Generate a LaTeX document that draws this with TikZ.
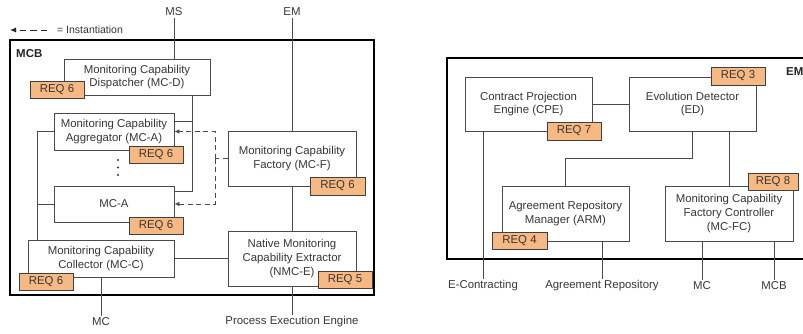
\documentclass[tikz,border=0pt]{standalone}
\usepackage{fontspec}
\setmainfont{Liberation Sans}
\usetikzlibrary{arrows.meta,shadows}
\definecolor{reqfill}{RGB}{247,185,132}
\definecolor{txt}{RGB}{55,55,55}
\definecolor{ln}{RGB}{75,75,75}
\begin{document}
\begin{tikzpicture}[x=1pt,y=-1pt,
  font=\fontsize{11.4}{13.6}\selectfont, text=txt,
  box/.style={draw=ln, line width=0.8pt, fill=white, align=center, inner sep=2pt},
  req/.style={draw=black!75, line width=0.9pt, fill=reqfill, inner sep=1pt, minimum width=54pt, minimum height=17pt,
    drop shadow={shadow xshift=0.9pt, shadow yshift=-0.9pt, fill=black!60, opacity=1}},
  outer/.style={draw=black, line width=1.6pt},
  lab/.style={inner sep=1.5pt},
  conn/.style={draw=ln, line width=0.8pt},
  inst/.style={draw=ln, line width=0.8pt, dash pattern=on 5pt off 3.5pt, -{Latex[length=5pt,width=4.5pt]}},
  legarrow/.style={draw=black!85, line width=1pt, dash pattern=on 6.5pt off 4pt, -{Latex[length=6pt,width=5pt]}}]
\useasboundingbox (0,0) rectangle (803,333);
\clip (0,0) rectangle (803,333);

% ---------- legend ----------
\coordinate (lgA) at (47,30);
\coordinate (lgB) at (10,30);
\draw[legarrow] (lgA) -- (lgB);
\node[anchor=west, inner sep=0, font=\fontsize{10.5}{12}\selectfont] (lgtxt) at (57,30) {= Instantiation};

% ---------- MCB ----------
\node[outer, minimum width=364pt, minimum height=255pt] (mcbbox) at (192,167.5) {};
\node[anchor=north west, inner sep=0, font=\fontsize{11.5}{13}\selectfont\bfseries, text=black!85] (mcbtitle) at (16,49) {MCB};

\node[box, minimum width=146pt, minimum height=36pt] (mcd) at (137,77) {Monitoring Capability\\Dispatcher (MC-D)};
\node[box, minimum width=120pt, minimum height=37pt] (mcaA) at (114,131.5) {Monitoring Capability\\Aggregator (MC-A)};
\node[box, minimum width=120pt, minimum height=36pt] (mcaB) at (114,204) {MC-A};
\node[box, minimum width=146pt, minimum height=37pt] (mcc) at (101,258.5) {Monitoring Capability\\Collector (MC-C)};
\node[box, minimum width=128pt, minimum height=55pt] (mcf) at (292,158.5) {Monitoring Capability\\Factory (MC-F)};
\node[box, minimum width=128pt, minimum height=55pt] (nmce) at (292,258.5) {Native Monitoring\\Capability Extractor\\(NMC-E)};

\node[req] (rqd) at (57,89.5) {REQ 6};
\node[req] (rqaA) at (156,154.5) {REQ 6};
\node[req] (rqaB) at (156,225.5) {REQ 6};
\node[req] (rqc) at (46,281.5) {REQ 6};
\node[req, minimum width=55pt, minimum height=18pt] (rqf) at (337.5,186) {REQ 6};
\node[req] (rqn) at (345,280) {REQ 5};

\fill[txt] (118,160) circle (1.2pt) (118,167.5) circle (1.2pt) (118,175) circle (1.2pt);

\node[lab] (ms) at (174,12) {MS};
\node[lab] (emtop) at (292,12) {EM};
\node[lab] (mcbot) at (101,322) {MC};
\node[lab] (pee) at (292,322) {Process Execution Engine};

\draw[conn] (ms.south) -- (ms.south |- mcd.north);
\draw[conn] (emtop.south) -- (mcf.north);
\coordinate (dj) at (192,191);
\coordinate (dk) at (192,121);
\draw[conn] (mcd.south -| dj) -- (dj) -- (dj -| mcaB.east);
\draw[conn] (dk -| mcaA.east) -- (dk);
\coordinate (bus) at (37,131.5);
\draw[conn] (mcaA.west) -- (bus) -- (bus |- mcc.north);
\draw[conn] (mcaB.west) -- (mcaB.west -| bus);
\draw[conn] (mcc.east) -- (nmce.west);
\draw[conn] (mcc.south) -- (mcbot.north);
\draw[conn] (mcf.south) -- (nmce.north);
\draw[conn] (nmce.south) -- (pee.north);

\coordinate (dd) at (215,158.5);
\draw[conn, dash pattern=on 5pt off 3.5pt] (mcf.west) -- (dd);
\draw[inst] (dd) |- (mcaA.east);
\draw[inst] (dd) |- (mcaB.east);

% ---------- EM ----------
\node[outer, minimum width=370pt, minimum height=201pt] (embox) at (632,158.5) {};
\node[anchor=north west, inner sep=0, font=\fontsize{11.5}{13}\selectfont\bfseries, text=black!85] (emtitle) at (786,67) {EM};

\node[box, minimum width=127pt, minimum height=54pt] (cpe) at (528.5,104) {Contract Projection\\Engine (CPE)};
\node[box, minimum width=127pt, minimum height=54pt] (ed) at (692.5,104) {Evolution Detector\\(ED)};
\node[box, minimum width=127pt, minimum height=55pt] (arm) at (565.5,213.5) {Agreement Repository\\Manager (ARM)};
\node[box, minimum width=128pt, minimum height=55pt] (mcfc) at (729,213.5) {Monitoring Capability\\Factory Controller\\(MC-FC)};

\node[req, minimum height=18pt] (rq7) at (574,131) {REQ 7};
\node[req, minimum height=18pt] (rq3) at (738,76) {REQ 3};
\node[req, minimum width=55pt] (rq4) at (519.5,241) {REQ 4};
\node[req, minimum width=50pt] (rq8) at (773,181.5) {REQ 8};

\node[lab] (econ) at (483,286) {E-Contracting};
\node[lab] (arep) at (602,286) {Agreement Repository};
\node[lab] (mcr) at (702,286) {MC};
\node[lab] (mcbr) at (774,286) {MCB};

\draw[conn] (cpe.east) -- (ed.west);
\coordinate (ej) at (692,158);
\draw[conn] (ed.south -| ej) -- (ej) -| (arm.north);
\draw[conn] (mcfc.north |- ed.south) -- (mcfc.north);
\draw[conn] (cpe.south -| econ) -- (econ.north);
\draw[conn] (arm.south -| arep) -- (arep.north);
\draw[conn] (mcfc.south -| mcr) -- (mcr.north);
\draw[conn] (mcfc.south -| mcbr) -- (mcbr.north);
\end{tikzpicture}
\end{document}
